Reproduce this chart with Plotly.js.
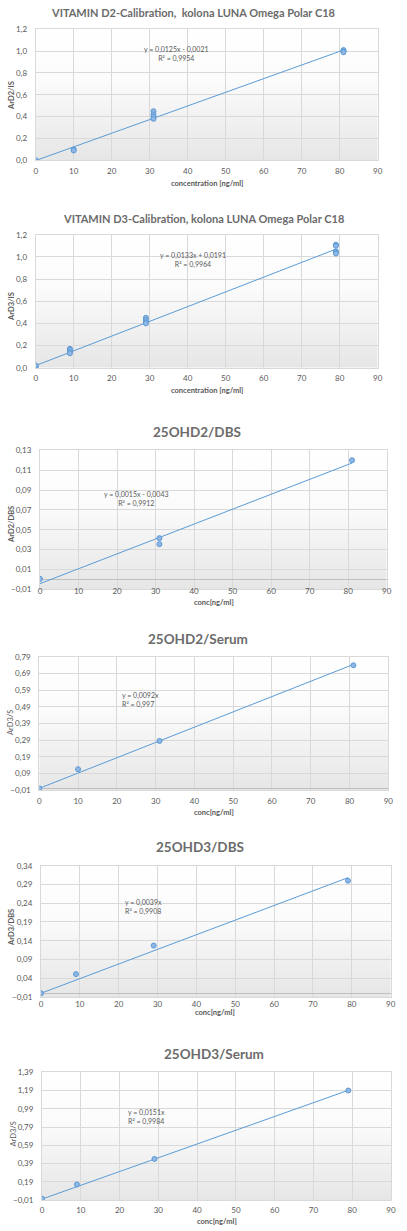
<!DOCTYPE html>
<html>
<head>
<meta charset="utf-8">
<script src="https://cdn.plot.ly/plotly-3.0.1.min.js"></script>
<style>
  html, body { margin: 0; padding: 0; background: #fff; }
  #chart { width: 407px; height: 1231px; }
</style>
</head>
<body>
<div id="chart"></div>
<script>
// chart data
const chartTitles = [
  "VITAMIN D2-Calibration,  kolona LUNA Omega Polar C18",
  "VITAMIN D3-Calibration, kolona LUNA Omega Polar C18",
  "25OHD2/DBS",
  "25OHD2/Serum",
  "25OHD3/DBS",
  "25OHD3/Serum",
];
const xTitles = ["concentration [ng/ml]", "concentration [ng/ml]", "conc[ng/ml]", "conc[ng/ml]", "conc[ng/ml]", "conc[ng/ml]"];
const yTitles = ["ArD2/IS", "ArD3/IS", "ArD2/DBS", "ArD3/S", "ArD3/DBS", "ArD3/S"];

const d2CalX = [0, 10, 10, 31, 31, 31, 31, 81, 81, 81];
const d2CalY = [0.0, 0.10, 0.09, 0.45, 0.42, 0.40, 0.38, 1.01, 1.0, 0.99];
const d2CalFit = [0.0125, -0.0021];

const d3CalX = [0, 0, 0, 9, 9, 9, 9, 29, 29, 29, 29, 79, 79, 79, 79, 79];
const d3CalY = [0.01, 0.0, 0.02, 0.17, 0.16, 0.14, 0.13, 0.45, 0.43, 0.41, 0.40, 1.11, 1.10, 1.05, 1.04, 1.03];
const d3CalFit = [0.0133, 0.0191];

const d2DbsX = [0, 31, 31, 81];
const d2DbsY = [0.0005, 0.0415, 0.0355, 0.12];
const d2DbsFit = [0.0015, -0.0043];

const d2SerX = [0, 10, 31, 81];
const d2SerY = [0.0, 0.115, 0.285, 0.74];
const d2SerFit = [0.0092, 0];

const d3DbsX = [0, 9, 29, 79];
const d3DbsY = [0.0, 0.051, 0.127, 0.30];
const d3DbsFit = [0.0039, 0];

const d3SerX = [0, 9, 29, 79];
const d3SerY = [0.005, 0.16, 0.44, 1.19];
const d3SerFit = [0.0151, 0];

const equations = [
  "y = 0,0125x - 0,0021<br>R² = 0,9954",
  "y = 0,0133x + 0,0191<br>R² = 0,9964",
  "y = 0,0015x - 0,0043<br>R² = 0,9912",
  "y = 0,0092x<br>R² = 0,997",
  "y = 0,0039x<br>R² = 0,9908",
  "y = 0,0151x<br>R² = 0,9984",
];

const yRanges = [[0, 1.2], [0, 1.2], [-0.01, 0.13], [-0.01, 0.79], [-0.01, 0.34], [-0.01, 1.39]];
const yDticks = [0.2, 0.2, 0.02, 0.1, 0.05, 0.2];

/*
  layout: pixel boxes of each plot area [left, right, top, bottom]
*/
const W = 407, H = 1231;
const boxes = [
  [35.7, 377.7, 29.3, 160.3],
  [35.7, 377.7, 234.7, 367.7],
  [40, 386.7, 450.3, 589.3],
  [39.3, 388.3, 657, 790],
  [41, 390.7, 865.7, 997],
  [42, 391, 1072.3, 1200],
];
// title / axis title centres in px
const titlePos = [[193, 13], [203, 219], [197, 432], [197.5, 639], [200, 847], [214, 1054]];
const xTitlePos = [[207, 183], [207, 391], [214, 602], [214, 812], [215, 1013], [217, 1221]];
const yTitlePos = [[11, 96], [11, 307], [11, 525], [10, 723], [11, 928], [12.5, 1134]];
const eqPos = [[37, 0.97, "center"], [41.5, 0.97, "center"], [25, 0.081, "center"],
               [20.8, 0.53, "left"], [21, 0.23, "left"], [21.7, 0.902, "left"]];
const xLabelStandoff = [3, 3, -6, 3, -1, 2];
const titleBig = [false, false, true, true, true, true];
const yTitleBold = [true, true, true, false, true, false];

const series = [
  [d2CalX, d2CalY, d2CalFit],
  [d3CalX, d3CalY, d3CalFit],
  [d2DbsX, d2DbsY, d2DbsFit],
  [d2SerX, d2SerY, d2SerFit],
  [d3DbsX, d3DbsY, d3DbsFit],
  [d3SerX, d3SerY, d3SerFit],
];

const FONT = "Lato, 'Open Sans', sans-serif";
const TXT = "#595959";
const BLUE = "#5b9bd5";

const gradSvg = '<svg xmlns="http://www.w3.org/2000/svg" width="10" height="100" viewBox="0 0 10 100" preserveAspectRatio="none">' +
  '<defs><linearGradient id="g" x1="0" y1="0" x2="0" y2="1">' +
  '<stop offset="0" stop-color="#ffffff"/><stop offset="0.4" stop-color="#fbfbfb"/><stop offset="1" stop-color="#e6e6e6"/>' +
  '</linearGradient></defs><rect width="10" height="100" fill="url(#g)"/></svg>';
const gradSrc = "data:image/svg+xml;charset=utf-8," + encodeURIComponent(gradSvg);

var traces = [];
var layout = {
  width: W,
  height: H,
  margin: { t: 0, b: 0, l: 0, r: 0, pad: 0 },
  paper_bgcolor: "#ffffff",
  plot_bgcolor: "rgba(0,0,0,0)",
  separators: ", ",
  showlegend: false,
  font: { family: FONT, color: TXT, size: 8 },
  annotations: [],
  images: [],
};

series.forEach(function (s, i) {
  var n = i === 0 ? "" : String(i + 1);
  var xs = s[0], ys = s[1], fit = s[2];
  var xMax = Math.max.apply(null, xs);
  var xMin = Math.min.apply(null, xs);

  // fitted trendline
  traces.push({
    x: [xMin, xMax],
    y: [fit[0] * xMin + fit[1], fit[0] * xMax + fit[1]],
    xaxis: "x" + n,
    yaxis: "y" + n,
    mode: "lines",
    line: { color: BLUE, width: 1 },
    hoverinfo: "skip",
  });
  // measured points
  traces.push({
    x: xs,
    y: ys,
    xaxis: "x" + n,
    yaxis: "y" + n,
    mode: "markers",
    marker: { size: 5, color: "#8fb6e4", line: { color: BLUE, width: 1 } },
  });

  var b = boxes[i];
  var yr = yRanges[i];
  layout["xaxis" + n] = {
    domain: [b[0] / W, b[1] / W],
    anchor: "y" + n,
    range: [0, 90],
    dtick: 10,
    tick0: 0,
    showgrid: true,
    gridcolor: "#d9d9d9",
    zeroline: false,
    showline: true,
    mirror: true,
    linecolor: "#d9d9d9",
    ticks: "",
    ticklabelstandoff: xLabelStandoff[i],
    tickfont: { size: 8, color: TXT, family: FONT },
    fixedrange: true,
  };
  layout["yaxis" + n] = {
    domain: [1 - b[3] / H, 1 - b[2] / H],
    anchor: "x" + n,
    range: [yr[0], yr[1] + 1e-9],
    tick0: yr[0],
    dtick: yDticks[i],
    tickformat: i < 2 ? ".1f" : ".2f",
    showgrid: true,
    gridcolor: "#d9d9d9",
    zeroline: true,
    zerolinecolor: "#bfbfbf",
    zerolinewidth: 1,
    showline: true,
    mirror: true,
    linecolor: "#d9d9d9",
    ticks: "",
    ticklabelstandoff: 6,
    tickfont: { size: 8, color: TXT, family: FONT },
    fixedrange: true,
  };

  layout.images.push({
    source: gradSrc,
    xref: "x" + n + " domain",
    yref: "y" + n + " domain",
    x: 0, y: 1, sizex: 1, sizey: 1,
    xanchor: "left", yanchor: "top",
    sizing: "stretch",
    layer: "below",
  });

  // chart title
  layout.annotations.push({
    text: "<b>" + chartTitles[i] + "</b>",
    xref: "paper", yref: "paper",
    x: titlePos[i][0] / W, y: 1 - titlePos[i][1] / H,
    xanchor: "center", yanchor: "middle",
    showarrow: false,
    font: { family: FONT, size: titleBig[i] ? 13.5 : 11, color: "#6b6b6b" },
  });
  // x axis title
  layout.annotations.push({
    text: "<b>" + xTitles[i] + "</b>",
    xref: "paper", yref: "paper",
    x: xTitlePos[i][0] / W, y: 1 - xTitlePos[i][1] / H,
    xanchor: "center", yanchor: "middle",
    showarrow: false,
    font: { family: FONT, size: 7.5, color: TXT },
  });
  // y axis title
  layout.annotations.push({
    text: yTitleBold[i] ? "<b>" + yTitles[i] + "</b>" : yTitles[i],
    xref: "paper", yref: "paper",
    x: yTitlePos[i][0] / W, y: 1 - yTitlePos[i][1] / H,
    xanchor: "center", yanchor: "middle",
    textangle: -90,
    showarrow: false,
    font: { family: FONT, size: 7.5, color: TXT },
  });
  // regression equation
  var ep = eqPos[i];
  layout.annotations.push({
    text: equations[i],
    xref: "x" + n, yref: "y" + n,
    x: ep[0], y: ep[1],
    xanchor: ep[2], yanchor: "middle",
    align: ep[2],
    showarrow: false,
    font: { family: FONT, size: 7, color: TXT },
  });
});

var config = { responsive: false, staticPlot: true };

Plotly.newPlot("chart", traces, layout, config);
</script>
</body>
</html>
